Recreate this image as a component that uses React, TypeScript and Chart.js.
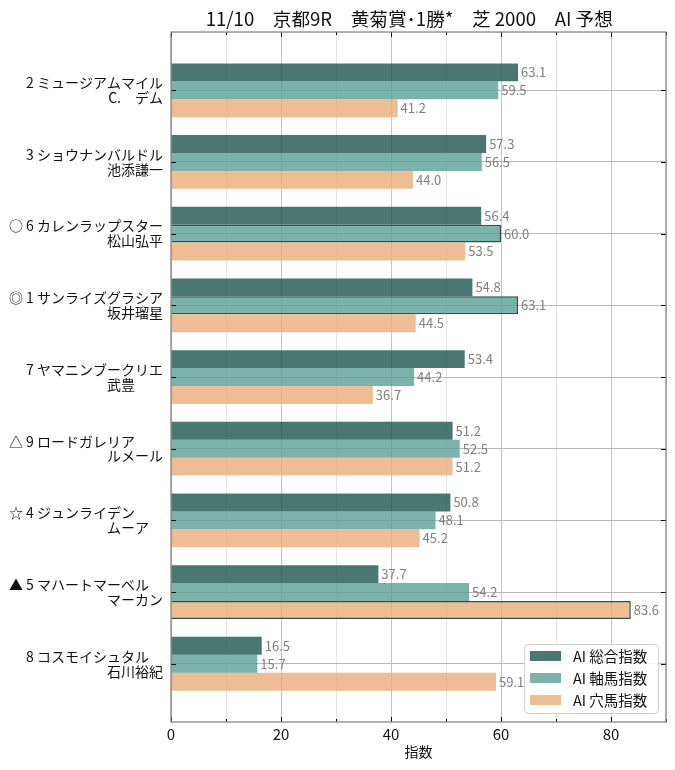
import React, { useEffect, useRef } from 'react';
import { Chart, registerables } from 'chart.js';

Chart.register(...registerables);

const FONT = '"Noto Sans CJK JP", "Noto Sans", sans-serif';

const chartTitle = '11/10　京都9R　黄菊賞･1勝*　芝 2000　AI 予想　';
const xAxisTitle = '指数';

const horseLines = [
  '2 ミュージアムマイル',
  '3 ショウナンバルドル',
  '○ 6 カレンラップスター',
  '◎ 1 サンライズグラシア',
  '7 ヤマニンブークリエ',
  '△ 9 ロードガレリア　　',
  '☆ 4 ジュンライデン　　',
  '▲ 5 マハートマーベル　',
  '8 コスモイシュタル　',
];
const jockeyLines = [
  'C.　デム',
  '池添謙一',
  '松山弘平',
  '坂井瑠星',
  '武豊　　',
  'ルメール',
  'ムーア　',
  'マーカン',
  '石川裕紀',
];

const seriesNames = ['AI 総合指数', 'AI 軸馬指数', 'AI 穴馬指数'];
const totalIndex = [63.1, 57.3, 56.4, 54.8, 53.4, 51.2, 50.8, 37.7, 16.5];
const axisIndex = [59.5, 56.5, 60.0, 63.1, 44.2, 52.5, 48.1, 54.2, 15.7];
const anaIndex = [41.2, 44.0, 53.5, 44.5, 36.7, 51.2, 45.2, 83.6, 59.1];

// bars drawn with an outline (index into categories), per series
const outlinedTotal: number[] = [];
const outlinedAxis = [2, 3];
const outlinedAna = [7];

const xMin = 0;
const xMax = 90;
const xMinorStep = 10;
const xLabelStep = 20;

const seriesColors = ['rgba(30,85,78,0.8)', 'rgba(90,160,150,0.8)', 'rgba(235,173,120,0.8)'];
const outlineColor = '#2f4f4f';

const valueLabels = {
  id: 'valueLabels',
  afterDatasetsDraw(chart: any) {
    const { ctx } = chart;
    ctx.save();
    ctx.font = `13px ${FONT}`;
    ctx.fillStyle = '#808080';
    ctx.textAlign = 'left';
    ctx.textBaseline = 'middle';
    chart.data.datasets.forEach((ds: any, di: number) => {
      const meta = chart.getDatasetMeta(di);
      meta.data.forEach((el: any, i: number) => {
        const v = ds.data[i].x;
        ctx.fillText(v.toFixed(1), el.x + 3, el.y);
      });
    });
    ctx.restore();
  },
};

const frameTicks = {
  id: 'frameTicks',
  afterDraw(chart: any) {
    const { ctx, chartArea: a, scales } = chart;
    ctx.save();
    ctx.strokeStyle = '#000';
    ctx.lineWidth = 1;
    const line = (x1: number, y1: number, x2: number, y2: number) => {
      ctx.beginPath();
      ctx.moveTo(x1, y1);
      ctx.lineTo(x2, y2);
      ctx.stroke();
    };
    scales.x.ticks.forEach((t: any) => {
      const px = Math.round(scales.x.getPixelForValue(t.value)) + 0.5;
      const len = t.value % xLabelStep === 0 ? 5 : 3;
      line(px, a.bottom, px, a.bottom - len);
      line(px, a.top, px, a.top + len);
    });
    scales.y.ticks.forEach((t: any) => {
      const py = Math.round(scales.y.getPixelForValue(t.value)) + 0.5;
      line(a.left, py, a.left + 5, py);
      line(a.right, py, a.right - 5, py);
    });
    ctx.strokeStyle = '#808080';
    ctx.lineWidth = 1.25;
    ctx.strokeRect(a.left, a.top, a.right - a.left, a.bottom - a.top);
    ctx.restore();
  },
};

const legendBox = {
  id: 'legendBox',
  afterDraw(chart: any) {
    const { ctx, chartArea: a } = chart;
    const w = 134;
    const h = 69;
    const x = a.right - 8 - w;
    const y = a.bottom - 9 - h;
    ctx.save();
    ctx.beginPath();
    ctx.roundRect(x + 0.5, y + 0.5, w, h, 4);
    ctx.fillStyle = 'rgba(255,255,255,0.85)';
    ctx.fill();
    ctx.strokeStyle = '#d0d0d0';
    ctx.lineWidth = 1;
    ctx.stroke();
    ctx.font = `14.5px ${FONT}`;
    ctx.textAlign = 'left';
    ctx.textBaseline = 'middle';
    chart.data.datasets.forEach((ds: any, i: number) => {
      const cy = y + 12 + i * 22;
      ctx.fillStyle = ds.backgroundColor;
      ctx.fillRect(x + 6, cy - 5, 31, 10);
      ctx.fillStyle = '#111';
      ctx.fillText(ds.label, x + 49, cy);
    });
    ctx.restore();
  },
};

export default function App() {
  const ref = useRef<HTMLCanvasElement>(null);

  useEffect(() => {
    document.body.style.margin = '0';
    const canvas = ref.current;
    if (!canvas) return;
    const series = [totalIndex, axisIndex, anaIndex];
    const outlines = [outlinedTotal, outlinedAxis, outlinedAna];
    const chart = new Chart(canvas, {
      type: 'bar',
      data: {
        datasets: series.map((vals, si) => ({
          label: seriesNames[si],
          data: vals.map((v, i) => ({ x: v, y: i })),
          backgroundColor: seriesColors[si],
          borderColor: outlineColor,
          borderWidth: vals.map((_, i) => (outlines[si].includes(i) ? 1.5 : 0)),
          categoryPercentage: 0.75,
          barPercentage: 1,
        })),
      },
      options: {
        indexAxis: 'y',
        responsive: false,
        animation: false,
        layout: { padding: { left: 0, right: 9, top: 0, bottom: 0 } },
        scales: {
          x: {
            type: 'linear',
            position: 'bottom',
            min: xMin,
            max: xMax,
            offset: false,
            ticks: {
              stepSize: xMinorStep,
              autoSkip: false,
              maxRotation: 0,
              padding: 3,
              color: '#111',
              font: { family: FONT, size: 15 },
              callback: (v: any) => (Number(v) % xLabelStep === 0 ? String(v) : ''),
            },
            grid: {
              drawTicks: false,
              offset: false,
              lineWidth: 1,
              color: (c: any) => (c.tick && c.tick.value % xLabelStep === 0 ? '#c4c4c4' : '#e4e4e4'),
            },
            border: { display: false },
            title: {
              display: true,
              text: xAxisTitle,
              color: '#111',
              font: { family: FONT, size: 14 },
              padding: { top: 0, bottom: 10 },
            },
            afterFit: (s: any) => {
              s.height = 48;
            },
          },
          y: {
            type: 'linear',
            position: 'left',
            reverse: true,
            min: -0.8125,
            max: 8.8125,
            offset: false,
            afterBuildTicks: (s: any) => {
              s.ticks = horseLines.map((_, i) => ({ value: i }));
            },
            ticks: {
              autoSkip: false,
              padding: 8,
              color: '#111',
              font: { family: FONT, size: 14, lineHeight: 1.07 },
              callback: (v: any) => [horseLines[Number(v)], jockeyLines[Number(v)]],
            },
            grid: { drawTicks: false, offset: false, color: '#b8b8b8', lineWidth: 1 },
            border: { display: false },
            afterFit: (s: any) => {
              s.width = 171;
            },
          },
        },
        plugins: {
          legend: { display: false },
          tooltip: { enabled: false },
          title: {
            display: true,
            text: chartTitle,
            fullSize: false,
            color: '#111',
            font: { family: FONT, size: 18.6, weight: 'normal' },
            padding: { top: 8, bottom: 1.7 },
          },
        },
      },
      plugins: [valueLabels, frameTicks, legendBox],
    } as any);
    return () => chart.destroy();
  }, []);

  return (
    <div style={{ width: 675, height: 770 }}>
      <canvas ref={ref} width={675} height={770} style={{ display: 'block' }} />
    </div>
  );
}
